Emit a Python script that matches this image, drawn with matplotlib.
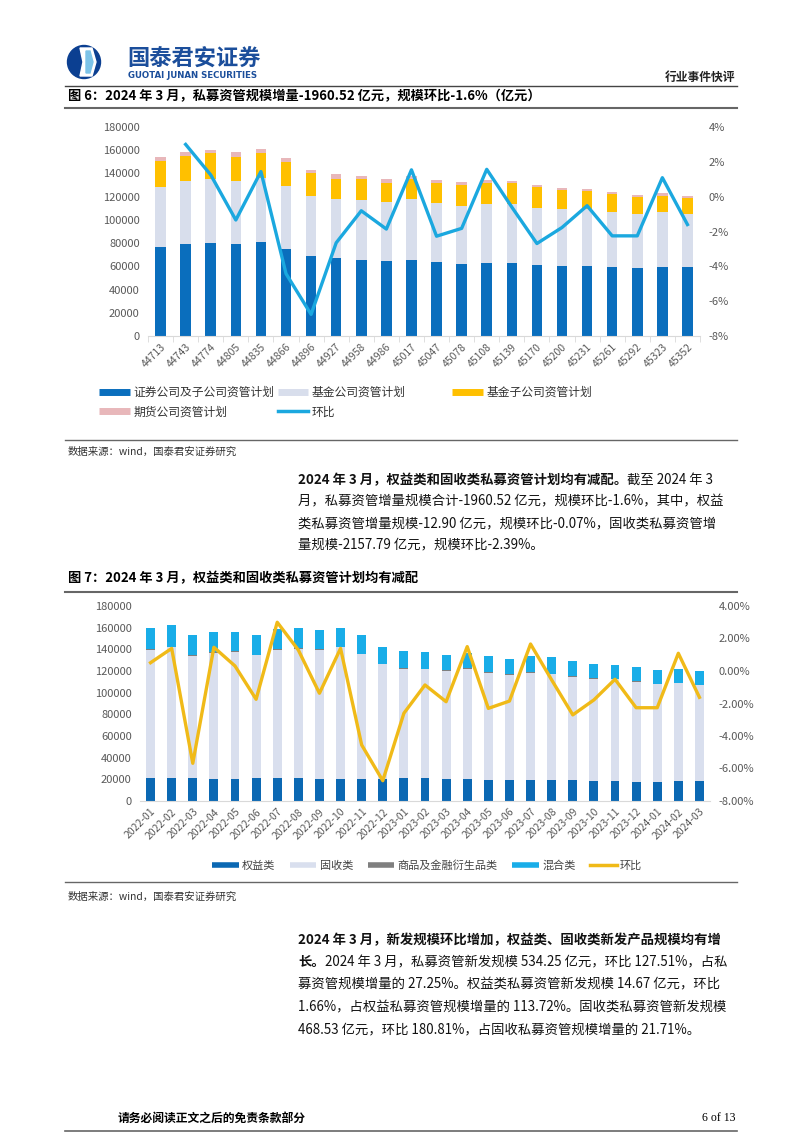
import numpy as np
import matplotlib
matplotlib.use('Agg')
from matplotlib import pyplot as plt
from matplotlib import ticker
from matplotlib.lines import Line2D
from matplotlib.patches import Ellipse, Polygon

plt.rcParams['font.family'] = ['Noto Sans CJK SC', 'DejaVu Sans']
plt.rcParams['axes.unicode_minus'] = False

#################
# Chart 6 data  #
#################

dates6 = ['44713', '44743', '44774', '44805', '44835', '44866', '44896',
          '44927', '44958', '44986', '45017', '45047', '45078', '45108',
          '45139', '45170', '45200', '45231', '45261', '45292', '45323',
          '45352']
sec_plans = [76900, 79200, 80350, 79200, 80640, 74600, 68800, 66800, 65660,
             64500, 65090, 63500, 62200, 63070, 63070, 61060, 60480, 60190,
             59040, 58180, 59330, 59620]
fund_plans = [51550, 54430, 54720, 54430, 55300, 55000, 51870, 51000, 51540,
              50700, 52710, 50840, 50100, 50690, 50400, 49540, 48960, 48960,
              47520, 46940, 47230, 45500]
fund_sub_plans = [22450, 21600, 22180, 20740, 21310, 19870, 19300, 17560,
                  17870, 16990, 17700, 17560, 17880, 18430, 18130, 17560,
                  16420, 15850, 15840, 14400, 14400, 13540]
futures_plans = [2890, 3170, 3170, 4030, 3450, 3730, 2880, 3740, 2880, 3170,
                 2300, 2600, 2300, 2310, 2030, 1730, 1720, 2000, 2000, 2020,
                 2020, 2300]
mom6 = [np.nan, 3.0, 1.25, -1.34, 1.44, -4.42, -6.76, -2.65, -0.81, -1.86,
        1.54, -2.27, -1.82, 1.57, -0.6, -2.69, -1.77, -0.52, -2.25, -2.25,
        1.09, -1.6]

#################
# Chart 7 data  #
#################

months7 = ['2022-01', '2022-02', '2022-03', '2022-04', '2022-05', '2022-06',
           '2022-07', '2022-08', '2022-09', '2022-10', '2022-11', '2022-12',
           '2023-01', '2023-02', '2023-03', '2023-04', '2023-05', '2023-06',
           '2023-07', '2023-08', '2023-09', '2023-10', '2023-11', '2023-12',
           '2024-01', '2024-02', '2024-03']
equity = [20900, 21230, 20900, 20000, 20600, 21540, 21230, 20900, 20300,
          20300, 20600, 20300, 20900, 20900, 20600, 20300, 19380, 19690,
          19690, 19080, 19080, 18770, 18770, 17850, 17540, 18460, 18460]
fixed_income = [118500, 120620, 112950, 116930, 116940, 112920, 118170,
                119720, 119100, 121550, 114790, 105860, 101260, 100640,
                99400, 101550, 99080, 96620, 98770, 98150, 95690, 94160,
                93540, 92300, 90460, 90160, 88620]
commodity = [620, 580, 560, 540, 610, 590, 570, 600, 560, 550, 530, 500, 480,
             520, 490, 470, 510, 460, 480, 450, 440, 470, 430, 420, 410, 440,
             420]
hybrid = [19980, 20040, 18820, 18230, 17850, 18490, 18500, 18780, 17890,
          17600, 17010, 15810, 16130, 15790, 14590, 13990, 15190, 14310,
          14910, 14940, 14020, 13060, 13110, 12820, 12520, 13100, 12810]
mom7 = [0.51, 1.39, -5.68, 1.46, 0.31, -1.74, 3.0, 1.29, -1.37, 1.39, -4.55,
        -6.75, -2.6, -0.86, -1.89, 1.5, -2.3, -1.85, 1.66, -0.55, -2.7, -1.78,
        -0.51, -2.26, -2.26, 1.09, -1.62]

W, H = 802, 1134
TICK_GREY = '#595959'


def px_box(x0, y0, x1, y1):
    # pixel box (top-left origin) -> figure fraction rect
    return [x0 / W, 1 - y1 / H, (x1 - x0) / W, (y1 - y0) / H]


def style_axes(ax, twin, rot_labels, pct_decimals):
    for s in ['top', 'left', 'right']:
        ax.spines[s].set_visible(False)
        twin.spines[s].set_visible(False)
    twin.spines['bottom'].set_visible(False)
    ax.spines['bottom'].set_color('#D9D9D9')
    ax.set_ylim(0, 180000)
    ax.yaxis.set_major_locator(ticker.MultipleLocator(20000))
    ax.tick_params(axis='y', length=0, labelsize=8, labelcolor=TICK_GREY,
                   pad=6)
    twin.set_ylim(-8, 4)
    twin.yaxis.set_major_locator(ticker.MultipleLocator(2))
    twin.yaxis.set_major_formatter(
        ticker.PercentFormatter(100, decimals=pct_decimals))
    twin.tick_params(axis='y', length=0, labelsize=8, labelcolor=TICK_GREY,
                     pad=6)
    ax.set_xticks(np.arange(len(rot_labels)))
    ax.set_xticklabels(rot_labels, rotation=45, ha='right',
                       rotation_mode='anchor', fontsize=7.5, color=TICK_GREY)
    ax.set_xticks(np.arange(len(rot_labels) + 1) - 0.5, minor=True)
    ax.tick_params(axis='x', which='major', length=0, pad=4)
    ax.tick_params(axis='x', which='minor', length=4, color='#D9D9D9')
    ax.set_xlim(-0.5, len(rot_labels) - 0.5)
    ax.set_facecolor('none')


fig = plt.figure(figsize=(W / 100, H / 100), dpi=100)

# page layer in pixel units
page = fig.add_axes([0, 0, 1, 1], zorder=0)
page.set_xlim(0, W)
page.set_ylim(H, 0)
page.axis('off')

# logo
page.add_patch(Ellipse((84, 62), 33, 33, color='#0B3F91'))
page.add_patch(Polygon([[80, 48], [92, 48], [96, 62], [92, 76], [80, 76],
                        [83, 62]], closed=True, color='white'))
page.add_patch(Polygon([[86, 51], [90, 51], [93, 62], [90, 73], [86, 73]],
                       closed=True, color='#7CC3E8'))
page.text(127, 59, '国泰君安证券', fontsize=16, fontweight='bold',
          color='#1B4E9B', va='center', ha='left')
page.text(128, 75, 'GUOTAI JUNAN SECURITIES', fontsize=6.2,
          fontweight='bold', color='#1B4E9B', va='center', ha='left',
          family='DejaVu Sans')
page.text(735, 77, '行业事件快评', fontsize=8.5, fontweight='bold',
          color='#222222', va='center', ha='right')
page.plot([65, 737], [86, 86], color='#444444', lw=1.0)

page.text(68, 96, '图 6：2024 年 3 月，私募资管规模增量-1960.52 亿元，规模环比-1.6%（亿元）',
          fontsize=9.5, fontweight='bold', va='center', ha='left')
page.plot([65, 737], [108, 108], color='#666666', lw=1.5)

page.plot([65, 737], [440, 440], color='#666666', lw=1.0)
page.text(68, 452, '数据来源：wind，国泰君安证券研究', fontsize=7.5,
          va='center', ha='left', color='#333333')

page.text(68, 578, '图 7：2024 年 3 月，权益类和固收类私募资管计划均有减配',
          fontsize=9.5, fontweight='bold', va='center', ha='left')
page.plot([65, 737], [592, 592], color='#666666', lw=1.5)

page.plot([65, 737], [882, 882], color='#666666', lw=1.0)
page.text(68, 897, '数据来源：wind，国泰君安证券研究', fontsize=7.5,
          va='center', ha='left', color='#333333')

page.text(118, 1118, '请务必阅读正文之后的免责条款部分', fontsize=8.5,
          fontweight='bold', va='center', ha='left')
page.text(735, 1118, '6 of 13', fontsize=8.5, va='center', ha='right',
          family='Liberation Serif')
page.plot([65, 737], [1131, 1131], color='#666666', lw=1.2)

renderer = fig.canvas.get_renderer()


def put_runs(x, y, runs, size=9.6):
    for txt, bold in runs:
        t = page.text(x, y, txt, fontsize=size, va='center', ha='left',
                      fontweight='bold' if bold else 'normal',
                      color='#111111')
        x += t.get_window_extent(renderer).width


para1 = [
    [('2024 年 3 月，权益类和固收类私募资管计划均有减配。', True),
     ('截至 2024 年 3', False)],
    [('月，私募资管增量规模合计-1960.52 亿元，规模环比-1.6%，其中，权益', False)],
    [('类私募资管增量规模-12.90 亿元，规模环比-0.07%，固收类私募资管增', False)],
    [('量规模-2157.79 亿元，规模环比-2.39%。', False)],
]
for i, runs in enumerate(para1):
    put_runs(298, 480 + i * 21.5, runs)

para2 = [
    [('2024 年 3 月，新发规模环比增加，权益类、固收类新发产品规模均有增', True)],
    [('长。', True),
     ('2024 年 3 月，私募资管新发规模 534.25 亿元，环比 127.51%，占私', False)],
    [('募资管规模增量的 27.25%。权益类私募资管新发规模 14.67 亿元，环比', False)],
    [('1.66%，占权益私募资管规模增量的 113.72%。固收类私募资管新发规模', False)],
    [('468.53 亿元，环比 180.81%，占固收私募资管规模增量的 21.71%。', False)],
]
for i, runs in enumerate(para2):
    put_runs(298, 940 + i * 22.4, runs)

################
# Chart 6      #
################

ax1 = fig.add_axes(px_box(148, 127, 700, 336), zorder=2)
tw1 = ax1.twinx()
x6 = np.arange(len(dates6))
bw = 0.42
c6 = ['#0A6EBD', '#D8DEEC', '#FFC000', '#E8B7BA']
bottom = np.zeros(len(dates6))
for vals, col in zip([sec_plans, fund_plans, fund_sub_plans, futures_plans],
                     c6):
    ax1.bar(x6, vals, bw, bottom=bottom, color=col, zorder=2)
    bottom += np.array(vals)
tw1.plot(x6, mom6, color='#1BA8DF', lw=2.4, zorder=3)
style_axes(ax1, tw1, dates6, 0)

labels6 = ['证券公司及子公司资管计划', '基金公司资管计划', '基金子公司资管计划',
           '期货公司资管计划', '环比']
hnd6 = [Line2D([], [], color=c, lw=5, solid_capstyle='butt') for c in c6]
hnd6.append(Line2D([], [], color='#1BA8DF', lw=2.5))
leg_kw = dict(frameon=False, fontsize=8.5, handlelength=2.6,
              handletextpad=0.3, borderpad=0, borderaxespad=0,
              labelcolor='#333333', labelspacing=0.55, columnspacing=0.3)
fig.legend([hnd6[0], hnd6[3], hnd6[1], hnd6[4]],
           [labels6[0], labels6[3], labels6[1], labels6[4]], ncol=2,
           loc='upper left', bbox_to_anchor=(99 / W, 1 - 386 / H), **leg_kw)
fig.legend([hnd6[2]], [labels6[2]], loc='upper left',
           bbox_to_anchor=(452 / W, 1 - 386 / H), **leg_kw)

################
# Chart 7      #
################

ax2 = fig.add_axes(px_box(140, 606, 710, 801), zorder=2)
tw2 = ax2.twinx()
x7 = np.arange(len(months7))
c7 = ['#0B68B3', '#D9DFEE', '#7F7F7F', '#19ADE8']
bottom = np.zeros(len(months7))
for vals, col in zip([equity, fixed_income, commodity, hybrid], c7):
    ax2.bar(x7, vals, 0.42, bottom=bottom, color=col, zorder=2)
    bottom += np.array(vals)
tw2.plot(x7, mom7, color='#F0BA18', lw=2.4, zorder=3)
style_axes(ax2, tw2, months7, 2)
ax2.tick_params(axis='x', which='minor', length=0)

labels7 = ['权益类', '固收类', '商品及金融衍生品类', '混合类', '环比']
hnd7 = [Line2D([], [], color=c, lw=4, solid_capstyle='butt') for c in c7]
hnd7.append(Line2D([], [], color='#F0BA18', lw=2.5))
fig.legend(hnd7, labels7, ncol=5, loc='center',
           bbox_to_anchor=(427 / W, 1 - 866 / H), frameon=False, fontsize=8,
           handlelength=2.4, handletextpad=0.3, columnspacing=1.3,
           labelcolor='#444444')

fig.savefig('out.png', dpi=100)
